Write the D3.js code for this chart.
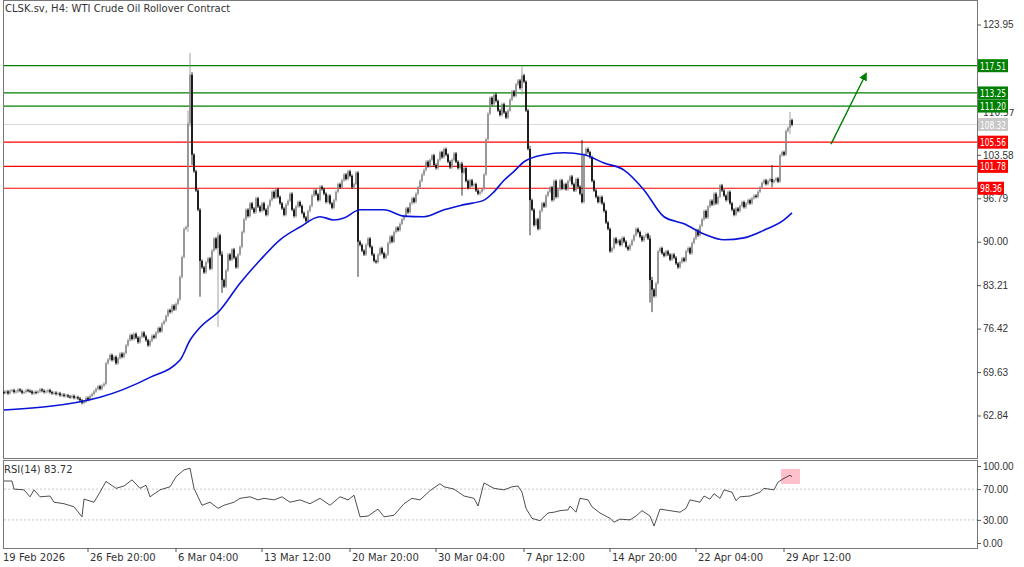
<!DOCTYPE html>
<html>
<head>
<meta charset="utf-8">
<script src="https://cdn.jsdelivr.net/npm/d3@7"></script>
<style>
  body { margin:0; background:#fff; }
  svg { display:block; font-family:"DejaVu Sans", sans-serif; }
  .tick text { fill:#333; font-size:10px; }
  .tick line { stroke:#555; }
</style>
</head>
<body>
<div id="chart"></div>
<script>
// cierres por vela H4 (apertura = cierre anterior)
var closes = [
  66.4,66.6,66.3,66.7,66.8,66.5,66.6,66.9,66.7,66.4,66.5,66.8,66.7,66.6,66.3,66.5,66.4,66.6,66.9,66.7,
  66.5,66.6,66.8,66.5,66.3,66.4,66.2,66.3,66.0,66.1,65.9,66.0,65.8,65.7,65.9,65.6,65.7,65.5,65.2,64.8,
  65.0,65.6,65.3,65.9,66.2,66.6,67.0,67.4,67.0,67.5,67.8,71.0,71.6,72.3,71.5,72.0,71.0,71.8,72.5,72.0,
  72.6,73.8,74.6,75.4,74.8,75.6,75.0,74.3,75.1,75.8,75.2,74.6,73.8,74.5,75.3,75.0,75.8,76.5,76.0,77.2,
  77.6,78.4,79.3,79.0,80.0,79.4,80.3,81.0,84.5,87.6,92.0,92.3,108.5,116.1,103.6,101.0,98.0,95.0,87.0,86.0,
  85.2,86.8,87.4,85.8,88.6,90.5,89.0,91.0,88.0,84.0,83.0,85.5,88.0,87.2,88.8,87.5,86.0,88.0,89.2,91.5,
  93.5,95.0,94.0,96.0,95.2,94.6,96.8,95.5,94.8,96.0,95.0,94.2,95.6,96.5,97.8,96.9,98.2,97.0,96.0,95.2,
  94.2,95.8,96.4,97.5,95.0,94.0,95.5,96.2,95.6,94.5,93.8,93.2,94.8,95.6,97.2,98.0,97.4,96.5,98.6,98.2,
  97.5,96.2,97.2,96.0,95.3,96.5,97.8,99.0,98.5,99.6,100.5,99.8,101.0,100.3,98.5,99.0,100.8,90.0,89.5,88.6,
  88.0,89.5,90.5,89.2,88.0,87.0,86.8,88.0,89.0,88.2,87.5,88.0,89.8,90.8,90.0,91.5,92.2,91.8,92.8,93.5,
  94.0,95.2,94.6,96.0,96.8,96.2,97.5,98.5,99.5,100.5,101.2,102.5,101.8,102.8,103.5,102.0,101.5,102.8,104.0,103.2,
  104.5,103.6,102.5,101.6,102.8,103.8,102.5,101.5,102.2,100.8,101.5,99.5,98.4,99.6,98.8,99.0,98.0,97.5,97.8,98.2,
  100.5,106.0,110.0,112.5,111.5,113.0,112.0,110.5,109.8,111.5,110.2,109.4,110.5,112.2,113.5,112.8,114.6,115.2,114.0,116.0,
  115.0,110.5,104.5,96.5,95.0,92.6,93.5,92.0,94.8,96.0,95.5,97.2,97.8,98.5,96.5,99.5,97.0,98.2,99.6,98.3,
  99.0,98.2,99.5,100.2,99.0,98.0,99.8,98.6,97.5,96.2,103.6,104.5,104.0,103.2,99.5,98.0,97.0,96.2,97.0,96.0,
  94.8,93.0,92.0,88.5,89.0,90.5,89.8,90.2,89.5,90.6,90.0,89.2,88.8,89.5,90.2,91.0,92.0,91.5,90.8,90.2,
  90.8,91.2,90.5,84.0,82.5,81.5,83.5,88.5,89.0,88.2,87.8,88.5,88.0,87.2,88.0,87.5,86.6,86.0,86.8,87.4,
  87.0,88.5,89.0,88.2,89.8,90.5,91.8,91.0,92.5,93.5,94.8,93.8,95.5,96.4,95.8,97.5,96.0,97.0,98.8,98.0,
  97.2,96.5,97.8,96.0,95.0,94.2,95.2,94.8,95.6,96.2,95.4,96.0,96.5,96.0,96.8,97.2,97.0,97.8,98.5,99.2,
  99.6,99.0,99.5,99.8,99.3,99.6,99.9,99.4,103.5,104.0,103.6,107.3,107.8,109.0,108.3
];
var firstOpen = 66.5;

// mechas largas visibles: [indice, maximo, minimo]
var wicks = [
  [92, 110.5, 91.5], [93, 119.5, 108.0], [94, 116.5, 102.0], [98, 95.0, 81.4],
  [107, 91.5, 76.7], [109, 88.5, 82.0], [177, 101.0, 84.5], [229, 102.5, 97.2],
  [259, 117.5, 113.0], [263, 105.0, 91.0], [289, 105.9, 96.0], [323, 91.0, 80.5],
  [324, 84.5, 79.0], [384, 102.0, 98.5], [393, 110.3, 106.8]
];

// media movil (azul): [indice, precio]
var maPoints = [
  [0,63.7],[48,65.7],[73,68.8],[88,71.5],[93,74.6],[98,76.6],[108,79.3],[118,83.5],[128,87.1],
  [138,90.3],[148,92.3],[158,93.9],[165,93.4],[170,93.7],[178,95.0],[190,95.0],[200,94.0],[210,93.9],
  [220,95.0],[230,95.8],[240,96.5],[245,97.8],[250,99.6],[255,101.0],[260,102.5],[270,103.6],
  [280,103.9],[290,103.6],[300,102.3],[310,101.2],[320,98.1],[330,93.9],[340,92.8],[350,91.2],
  [360,90.3],[370,90.6],[380,91.8],[390,93.4],[394,94.5]
];

// RSI(14): [indice, valor]
var rsiPoints = [
  [0,80.5],[4,80.5],[5,70],[10,69],[13,60],[15,69],[18,60],[23,61],[25,53],[30,51],[35,47],[39,34],
  [40,57],[45,53],[48,66],[51,80],[56,71],[60,74],[64,82],[68,71],[71,75],[73,60],[78,69],[83,73],
  [86,86],[90,95],[93,97],[95,71],[99,49],[103,53],[107,45],[110,49],[115,53],[118,58],[123,60],
  [127,56],[130,58],[135,56],[139,60],[143,53],[148,56],[153,51],[158,58],[163,49],[168,60],[172,56],
  [175,62],[178,34],[182,35],[187,44],[190,34],[195,36],[200,51],[204,58],[208,56],[213,68],[218,77],
  [220,73],[225,70],[230,61],[235,58],[237,48],[240,78],[245,71],[250,69],[254,73],[257,74],[259,66],
  [261,45],[264,32],[268,29],[272,39],[275,40],[278,42],[282,43],[283,48],[286,40],[288,58],[292,56],
  [294,47],[298,39],[303,32],[305,27],[308,31],[313,30],[316,35],[319,42],[323,35],[325,22],[328,44],
  [333,42],[338,40],[341,45],[343,56],[348,53],[350,61],[353,57],[355,64],[358,58],[360,69],[364,66],
  [366,55],[368,60],[373,61],[378,66],[380,71],[385,69],[387,79],[390,84],[393,88],[394,86]
];

var priceTicks = [123.95, 103.58, 96.79, 90.00, 83.21, 76.42, 69.63, 62.84];
var levels = [
  {v:117.51, c:"#008000"}, {v:113.25, c:"#008000"}, {v:111.20, c:"#008000"},
  {v:105.56, c:"#ff0000"}, {v:101.78, c:"#ff0000"}, {v:98.36, c:"#ff0000"}
];
var lastPrice = 108.32;
var rsiTicks = [100, 70, 30, 0];
var dateTicks = [[0,"19 Feb 2026"],[42,"26 Feb 20:00"],[86,"6 Mar 04:00"],[129,"13 Mar 12:00"],
  [173,"20 Mar 20:00"],[216,"30 Mar 04:00"],[260,"7 Apr 12:00"],[303,"14 Apr 20:00"],
  [346,"22 Apr 04:00"],[390,"29 Apr 12:00"]];

var W = 1024, H = 567;
var svg = d3.select("#chart").append("svg").attr("width", W).attr("height", H);

var x = d3.scaleLinear().domain([0, 394]).range([4, 792]);
var y = d3.scaleLinear().domain([62.84, 123.95]).range([415.5, 24.5]);
var yr = d3.scaleLinear().domain([0, 100]).range([543, 466]);

// paneles
svg.append("rect").attr("x", 3.5).attr("y", 0.5).attr("width", 974).attr("height", 458)
   .attr("fill", "none").attr("stroke", "#777");
svg.append("rect").attr("x", 3.5).attr("y", 460.5).attr("width", 974).attr("height", 88)
   .attr("fill", "none").attr("stroke", "#777");

// lineas de nivel
svg.append("line").attr("x1", 4).attr("x2", 977).attr("y1", y(lastPrice)).attr("y2", y(lastPrice))
   .attr("stroke", "#d8d8d8").attr("stroke-width", 1);
svg.selectAll(".lvl").data(levels).enter().append("line")
   .attr("x1", 4).attr("x2", 977)
   .attr("y1", function(d) { return y(d.v); }).attr("y2", function(d) { return y(d.v); })
   .attr("stroke", function(d) { return d.c; }).attr("stroke-width", 1.2);

// velas
var candles = closes.map(function(c, i) {
  var o = i == 0 ? firstOpen : closes[i-1];
  return {i:i, o:o, c:c, h:Math.max(o,c), l:Math.min(o,c)};
});
wicks.forEach(function(w) { candles[w[0]].h = w[1]; candles[w[0]].l = w[2]; });

var cg = svg.append("g");
candles.forEach(function(d) {
  var col = d.c >= d.o ? "#8a8a8a" : "#000";
  var top = Math.min(y(d.h), y(Math.max(d.o,d.c)) - 1.5);
  var bot = Math.max(y(d.l), y(Math.min(d.o,d.c)) + 1.5);
  cg.append("line").attr("x1", x(d.i)).attr("x2", x(d.i)).attr("y1", top).attr("y2", bot)
    .attr("stroke", col).attr("stroke-width", 0.8);
  var by = y(Math.max(d.o,d.c)), bh = Math.max(1, y(Math.min(d.o,d.c)) - by);
  cg.append("rect").attr("x", x(d.i) - 0.8).attr("y", by).attr("width", 1.6).attr("height", bh)
    .attr("fill", col);
});

// media movil
svg.append("path").datum(maPoints)
   .attr("d", d3.line().x(function(d) { return x(d[0]); }).y(function(d) { return y(d[1]); })
              .curve(d3.curveMonotoneX))
   .attr("fill", "none").attr("stroke", "#0a14d8").attr("stroke-width", 1.6);

// flecha
var defs = svg.append("defs");
defs.append("marker").attr("id", "ah").attr("viewBox", "0 0 10 10").attr("refX", 8).attr("refY", 5)
    .attr("markerWidth", 6).attr("markerHeight", 6).attr("orient", "auto")
    .append("path").attr("d", "M0,0 L10,5 L0,10 z").attr("fill", "#008000");
svg.append("line").attr("x1", 831).attr("y1", y(105.56) + 2).attr("x2", 866).attr("y2", y(117.51) + 8)
   .attr("stroke", "#008000").attr("stroke-width", 1.4).attr("marker-end", "url(#ah)");

// eje de precios
var ax = svg.append("g").attr("transform", "translate(977,0)")
  .call(d3.axisRight(y).tickValues(priceTicks).tickSize(4).tickPadding(2)
        .tickFormat(function(d) { return d.toFixed(2); }));
ax.select(".domain").remove();
svg.append("text").attr("x", 983).attr("y", y(110.57) + 6).attr("fill", "#333")
   .attr("font-size", 9).text("110.57");

var tags = levels.concat([{v:lastPrice, c:"#c8c8c8"}]);
tags.forEach(function(d) {
  var txt = d.v.toFixed(2);
  var w = txt.length > 5 ? 30 : 26;
  svg.append("rect").attr("x", 978).attr("y", y(d.v) - 6.5).attr("width", w)
     .attr("height", 13).attr("fill", d.c);
  svg.append("text").attr("x", 980).attr("y", y(d.v) + 4).attr("fill", "#fff")
     .attr("font-size", 10).attr("textLength", w - 4).attr("lengthAdjust", "spacingAndGlyphs")
     .text(txt);
});

// RSI
svg.selectAll(".rl").data([70, 30]).enter().append("line")
   .attr("x1", 4).attr("x2", 977).attr("y1", function(d) { return yr(d); }).attr("y2", function(d) { return yr(d); })
   .attr("stroke", "#c8c8c8").attr("stroke-dasharray", "2,2");
svg.append("rect").attr("x", 781).attr("y", 469).attr("width", 19).attr("height", 15).attr("fill", "#ffc0cb");
svg.append("path").datum(rsiPoints)
   .attr("d", d3.line().x(function(d) { return x(d[0]); }).y(function(d) { return yr(d[1]); }))
   .attr("fill", "none").attr("stroke", "#222").attr("stroke-width", 0.8);
var rx = svg.append("g").attr("transform", "translate(977,0)")
  .call(d3.axisRight(yr).tickValues(rsiTicks).tickSize(4).tickPadding(2)
        .tickFormat(function(d) { return d.toFixed(2); }));
rx.select(".domain").remove();

// eje de fechas
var dg = svg.append("g");
dateTicks.forEach(function(d) {
  var px = x(d[0]);
  if (d[0] > 0) dg.append("line").attr("x1", px).attr("x2", px).attr("y1", 548).attr("y2", 552).attr("stroke", "#555");
  dg.append("text").attr("x", d[0] > 0 ? px + 2 : 3).attr("y", 561).attr("fill", "#333")
    .attr("font-size", 10).text(d[1]);
});

// textos
svg.append("text").attr("x", 5).attr("y", 12).attr("font-size", 10).attr("fill", "#333")
   .text("CLSK.sv, H4:  WTI Crude Oil Rollover Contract");
svg.append("text").attr("x", 4).attr("y", 473).attr("font-size", 10).attr("fill", "#333")
   .text("RSI(14) 83.72");
</script>
</body>
</html>
